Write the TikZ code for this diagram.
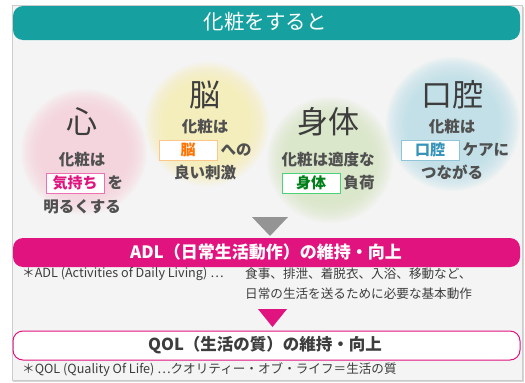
\documentclass[tikz,border=0pt]{standalone}
\usepackage{fontspec}
\setmainfont{Noto Sans CJK JP}
\definecolor{teal1}{HTML}{16A09F}
\definecolor{mag}{HTML}{E1137F}
\definecolor{panel}{HTML}{F4F4F4}
\definecolor{txt}{HTML}{3D3D3D}
\definecolor{bpink}{RGB}{246,208,219}
\definecolor{byellow}{RGB}{252,238,178}
\definecolor{bgreen}{RGB}{216,231,195}
\definecolor{bblue}{RGB}{186,222,232}
\newcommand\softblob[3]{%
  \foreach \k in {0,...,11} {\fill[#3, opacity=0.12] (#1) circle[radius={#2pt*(1-0.028*\k)}];}}
\tikzset{
  bigc/.style={font=\fontsize{31}{31}\selectfont, text=txt, inner sep=0},
  body/.style={font=\bfseries\fontsize{15.5}{16}\selectfont, text=txt!90, inner sep=0},
  lab/.style n args={2}{draw=#1, fill=white, line width=0.9pt, minimum width=58pt, minimum height=20pt, inner sep=0, text=#2, font=\bfseries\fontsize{15}{15}\selectfont},
  note/.style={font=\fontsize{12.6}{13}\selectfont, text=txt, inner sep=0, anchor=west},
  bar/.style={rounded corners=10pt},
}
\begin{document}
\begin{tikzpicture}[x=1pt,y=-1pt]
\useasboundingbox (0,0) rectangle (525,383);
\fill[white] (0,0) rectangle (525,383);
% panel with shadow
\fill[black!16] (13,7) rectangle (524,382);
\fill[panel] (12,5) rectangle (522,380);
\draw[black!20, line width=0.8pt] (12,5) rectangle (522,380);
% header
\fill[teal1, bar] (13,6) rectangle (520,40);
\node (title) [font=\fontsize{20.5}{21}\selectfont, text=white] at (265,22) {化粧をすると};
% blobs
\softblob{84,152}{63}{bpink}
\softblob{207,124}{62}{byellow}
\softblob{330,160}{63}{bgreen}
\softblob{453,124}{67}{bblue}
% heart
\node (kokoro) [bigc] at (82,122) {心};
\node (k1) [body] at (82,160) {化粧は};
\node (k2) [lab={mag!60}{mag}] at (75,183) {気持ち};
\node (k2b) [body, anchor=west] at ([xshift=3pt]k2.east) {を};
\node (k3) [body] at (82,207) {明るくする};
% brain
\node (nou) [bigc] at (205,95) {脳};
\node (n1) [body] at (205,127) {化粧は};
\node (n2) [lab={orange!45}{orange!90!red}] at (188,150) {脳};
\node (n2b) [body, anchor=west] at ([xshift=3pt]n2.east) {への};
\node (n3) [body] at (205,173) {良い刺激};
% body
\node (shin) [bigc] at (328,122) {身体};
\node (s1) [body] at (328,160) {化粧は適度な};
\node (s2) [lab={green!50!teal!70}{green!50!black!80!teal}] at (311,183) {身体};
\node (s2b) [body, anchor=west] at ([xshift=3pt]s2.east) {負荷};
% mouth
\node (kou) [bigc] at (452,95) {口腔};
\node (o1) [body] at (452,127) {化粧は};
\node (o2) [lab={cyan!40!teal!50}{cyan!60!teal!90!black}] at (430,150) {口腔};
\node (o2b) [body, anchor=west] at ([xshift=3pt]o2.east) {ケアに};
\node (o3) [body] at (452,172) {つながる};
% grey arrow
\fill[black!42] (252,217) -- (288,217) -- (270,236) -- cycle;
% ADL bar
\fill[mag, bar] (13,238) rectangle (520,267);
\node (adl) [font=\bfseries\fontsize{17}{17}\selectfont, text=white] at (266,252) {ADL（日常生活動作）の維持・向上};
\node (adln) [note] at (22,274) {＊ADL (Activities of Daily Living) ⋯};
\node (adl1) [note] at (245,274) {食事、排泄、着脱衣、入浴、移動など、};
\node (adl2) [note] at (245,294) {日常の生活を送るために必要な基本動作};
% magenta arrow
\fill[mag] (258,309) -- (287,309) -- (272.5,327) -- cycle;
% QOL box
\draw[mag, fill=white, line width=1pt, bar] (13,331) rectangle (520,360);
\node (qol) [font=\bfseries\fontsize{16.5}{17}\selectfont, text=txt] at (265,345) {QOL（生活の質）の維持・向上};
\node (qoln) [note] at (22,370) {＊QOL (Quality Of Life) ⋯クオリティー・オブ・ライフ＝生活の質};
\end{tikzpicture}
\end{document}
